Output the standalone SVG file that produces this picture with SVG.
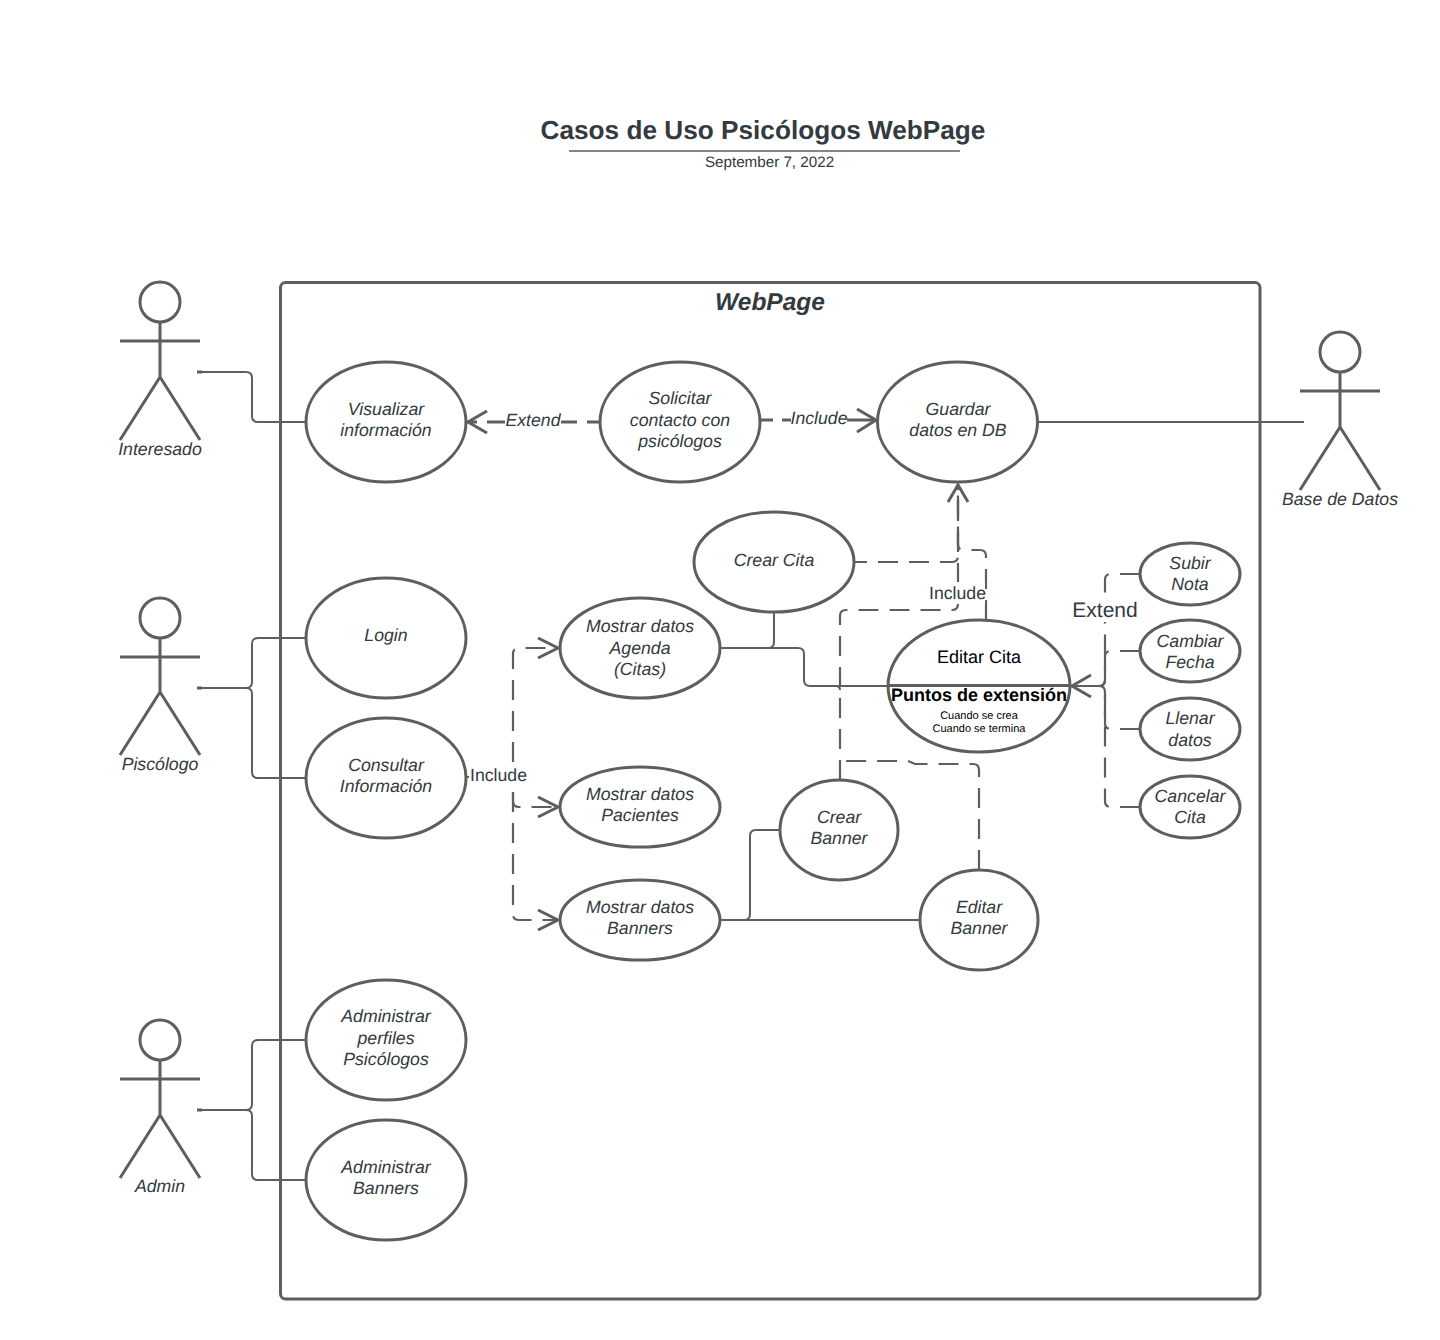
<svg xmlns="http://www.w3.org/2000/svg" width="1440" height="1340" viewBox="0 0 1440 1340">
<style>
text{font-family:"Liberation Sans",Arial,sans-serif;fill:#333a40;text-anchor:middle;text-rendering:geometricPrecision}
.i{font-style:italic;font-size:17.7px}
.n{fill:#fff;stroke:#5e5e5e;stroke-width:3}
.a{fill:none;stroke:#5e5e5e;stroke-width:3}
.c{fill:none;stroke:#5e5e5e;stroke-width:2}
.d{fill:none;stroke:#5e5e5e;stroke-width:2.2;stroke-dasharray:20 11}
.t{fill:none;stroke:#5e5e5e;stroke-width:3}
.h{fill:none;stroke:#5e5e5e;stroke-width:3}
.lb{fill:#fff}
</style>
<rect width="1440" height="1340" fill="#fff"/>
<g id="title">
<text x="763" y="139" font-size="26.200" font-weight="700">Casos de Uso Psicólogos WebPage</text>
<line x1="569" y1="151" x2="960" y2="151" stroke="#5e5e5e" stroke-width="1.5"/>
<text x="769.500" y="167" font-size="15.200">September 7, 2022</text>
</g>
<g id="system">
<rect x="280.500" y="282.500" width="979.500" height="1016.500" rx="5" class="n"/>
<text x="770" y="310" font-size="24.500" font-weight="700" font-style="italic">WebPage</text>
</g>
<g id="connectors">
<path class="c" d="M198 372H246Q252 372 252 378V416Q252 422 258 422H306"/>
<path class="c" d="M198 688H246Q252 688 252 682V644Q252 638 258 638H306"/>
<path class="c" d="M198 688H246Q252 688 252 694V772Q252 778 258 778H306"/>
<path class="c" d="M198 1110H246Q252 1110 252 1104V1046Q252 1040 258 1040H306"/>
<path class="c" d="M198 1110H246Q252 1110 252 1116V1174Q252 1180 258 1180H306"/>
<path class="c" d="M1038 422H1304"/>
<path class="t" d="M600 422H587M577 422H561M505 422H487M477 422H468"/>
<path class="t" d="M760 420H773M782 420H791M847 420H857M857 420H876"/>
<path class="a" d="M487 411L468 422L487 433M857 409L876 420L857 432"/>
<path class="d" stroke-dashoffset="7" d="M854 562H952Q958 562 958 556V484"/>
<path class="d" d="M986 620V556Q986 550 980 550H964Q958 550 958 544V484"/>
<path class="d" d="M840 780V616Q840 610 846 610H952Q958 610 958 604V484"/>
<path class="d" d="M979 870V770Q979 764 973 764H915L908 761H840"/>
<path class="a" d="M948 502L958 485L968 502"/>
<path class="c" d="M720 648H768Q774 648 774 642V612"/>
<path class="c" d="M720 648H798Q804 648 804 654V680Q804 686 810 686H836Q840 686 840 690M836 686H888"/>
<path class="d" d="M1140 574H1111Q1105 574 1105 580V680Q1105 686 1099 686H1072"/>
<path class="d" d="M1140 651H1111Q1105 651 1105 657V680Q1105 686 1099 686H1072"/>
<path class="d" d="M1140 729H1111Q1105 729 1105 723V692Q1105 686 1099 686H1072"/>
<path class="d" d="M1140 807H1111Q1105 807 1105 801V692Q1105 686 1099 686H1072"/>
<path class="a" d="M1091 675L1072 686L1091 697"/>
<path class="d" d="M466 777H513V654Q513 648 519 648H558"/>
<path class="d" d="M466 777H513V801Q513 807 519 807H558"/>
<path class="d" d="M466 777H513V914Q513 920 519 920H558"/>
<path class="a" d="M538 638L558 648L538 658M538 797L558 807L538 817M538 910L558 920L538 930"/>
<path class="c" d="M720 920H744Q750 920 750 914V836Q750 830 756 830H780"/>
<path class="c" d="M720 920H920"/>
<path class="t" d="M197 372H202M197 688H202M197 1110H202"/>
</g>
<g id="actor-interesado"><circle cx="160" cy="302" r="20" class="n"/><path class="h" d="M160 322V377L120 440M160 377L200 440M120 341H200"/><text x="160" y="455" class="i">Interesado</text></g>
<g id="actor-psicologo"><circle cx="160" cy="618" r="20" class="n"/><path class="h" d="M160 638V692L120 755M160 692L200 755M120 657H200"/><text x="160" y="770" class="i">Piscólogo</text></g>
<g id="actor-admin"><circle cx="160" cy="1040" r="20" class="n"/><path class="h" d="M160 1060V1115L120 1178M160 1115L200 1178M120 1079H200"/><text x="160" y="1192" class="i">Admin</text></g>
<g id="actor-bd"><circle cx="1340" cy="352" r="20" class="n"/><path class="h" d="M1340 372V427L1300 490M1340 427L1380 490M1300 391H1380"/><text x="1340" y="505" class="i">Base de Datos</text></g>
<g id="visualizar"><ellipse cx="386" cy="422" rx="80" ry="60" class="n"/><text class="i" x="386" y="415">Visualizar</text><text class="i" x="386" y="436">información</text></g>
<g id="solicitar"><ellipse cx="680" cy="422" rx="80" ry="60" class="n"/><text class="i" x="680" y="404">Solicitar</text><text class="i" x="680" y="426">contacto con</text><text class="i" x="680" y="447">psicólogos</text></g>
<g id="guardar"><ellipse cx="957.500" cy="422" rx="80" ry="60" class="n"/><text class="i" x="958" y="415">Guardar</text><text class="i" x="958" y="436">datos en DB</text></g>
<g id="login"><ellipse cx="386" cy="638" rx="80" ry="60" class="n"/><text class="i" x="386" y="641">Login</text></g>
<g id="consultar"><ellipse cx="386" cy="778" rx="80" ry="60" class="n"/><text class="i" x="386" y="771">Consultar</text><text class="i" x="386" y="792">Información</text></g>
<g id="admin-perfiles"><ellipse cx="386" cy="1040" rx="80" ry="60" class="n"/><text class="i" x="386" y="1022">Administrar</text><text class="i" x="386" y="1044">perfiles</text><text class="i" x="386" y="1065">Psicólogos</text></g>
<g id="admin-banners"><ellipse cx="386" cy="1180" rx="80" ry="60" class="n"/><text class="i" x="386" y="1173">Administrar</text><text class="i" x="386" y="1194">Banners</text></g>
<g id="crear-cita"><ellipse cx="774" cy="562" rx="80" ry="50" class="n"/><text class="i" x="774" y="566">Crear Cita</text></g>
<g id="agenda"><ellipse cx="640" cy="648" rx="80" ry="50" class="n"/><text class="i" x="640" y="632">Mostrar datos</text><text class="i" x="640" y="654">Agenda</text><text class="i" x="640" y="675">(Citas)</text></g>
<g id="pacientes"><ellipse cx="640" cy="807" rx="80" ry="40" class="n"/><text class="i" x="640" y="800">Mostrar datos</text><text class="i" x="640" y="821">Pacientes</text></g>
<g id="banners"><ellipse cx="640" cy="920" rx="80" ry="40" class="n"/><text class="i" x="640" y="913">Mostrar datos</text><text class="i" x="640" y="934">Banners</text></g>
<g id="crear-banner"><ellipse cx="839" cy="830" rx="59" ry="50" class="n"/><text class="i" x="839" y="823">Crear</text><text class="i" x="839" y="844">Banner</text></g>
<g id="editar-banner"><ellipse cx="979" cy="920" rx="59" ry="50" class="n"/><text class="i" x="979" y="913">Editar</text><text class="i" x="979" y="934">Banner</text></g>
<g id="editar-cita"><ellipse cx="979" cy="686" rx="91" ry="66" class="n"/><line x1="888" y1="685.500" x2="1070" y2="685.500" stroke="#5e5e5e" stroke-width="3"/>
<text x="979" y="663" font-size="18" style="fill:#000">Editar Cita</text>
<text x="979" y="701" font-size="18" font-weight="700" style="fill:#000">Puntos de extensión</text>
<text x="979" y="719" font-size="11" style="fill:#000">Cuando se crea</text>
<text x="979" y="732" font-size="11" style="fill:#000">Cuando se termina</text></g>
<g id="subir"><ellipse cx="1190" cy="574" rx="50" ry="31" class="n"/><text class="i" x="1190" y="569">Subir</text><text class="i" x="1190" y="590">Nota</text></g>
<g id="cambiar"><ellipse cx="1190" cy="651" rx="50" ry="31" class="n"/><text class="i" x="1190" y="647">Cambiar</text><text class="i" x="1190" y="668">Fecha</text></g>
<g id="llenar"><ellipse cx="1190" cy="729" rx="50" ry="31" class="n"/><text class="i" x="1190" y="724">Llenar</text><text class="i" x="1190" y="746">datos</text></g>
<g id="cancelar"><ellipse cx="1190" cy="807" rx="50" ry="31" class="n"/><text class="i" x="1190" y="802">Cancelar</text><text class="i" x="1190" y="823">Cita</text></g>
<g id="labels">
<rect class="lb" x="505" y="411" width="56" height="20"/><text class="i" x="533" y="426">Extend</text>
<rect class="lb" x="791" y="408" width="56" height="20"/><text class="i" x="819" y="424">Include</text>
<rect class="lb" x="930" y="582" width="55" height="22"/><text x="957.500" y="599" font-size="17.700">Include</text>
<rect class="lb" x="1072" y="597" width="65" height="25"/><text x="1105" y="617" font-size="21">Extend</text>
<rect class="lb" x="469" y="766" width="57" height="20"/><text x="498.500" y="781" font-size="17.700">Include</text>
</g>
</svg>
